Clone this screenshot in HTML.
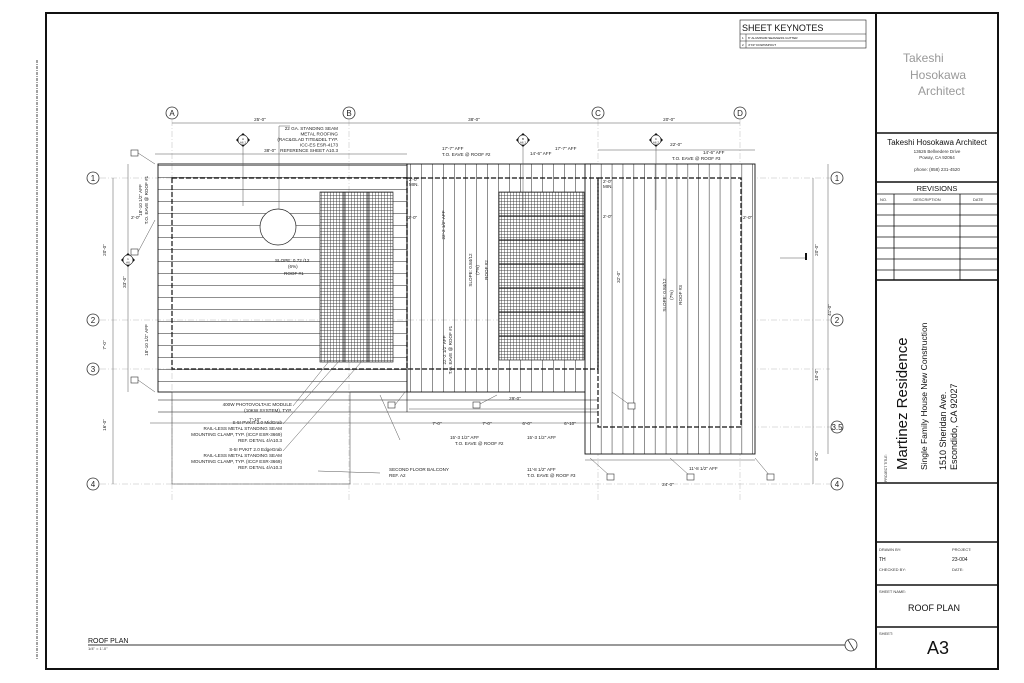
<!DOCTYPE html>
<html><head><meta charset="utf-8"><style>
html,body{margin:0;padding:0;background:#fff;}
svg{display:block;font-family:"Liberation Sans",sans-serif;}
.t{font-size:4.6px;fill:#222;}
.d{stroke:#555;stroke-width:0.5;fill:none;}
.g{stroke:#bbb;stroke-width:0.5;stroke-dasharray:6 2 1 2;fill:none;}
.k{stroke:#111;fill:none;}
.bub{fill:#fff;stroke:#333;stroke-width:0.8;}
.bt{font-size:8px;fill:#222;text-anchor:middle;}
</style></head><body>
<svg width="1024" height="683" viewBox="0 0 1024 683" xmlns="http://www.w3.org/2000/svg">
<defs>
<pattern id="hz" width="10" height="12" patternUnits="userSpaceOnUse" y="165"><line x1="0" y1="0.5" x2="10" y2="0.5" stroke="#444" stroke-width="0.6"/></pattern>
<pattern id="vt" width="11" height="10" patternUnits="userSpaceOnUse" x="410"><line x1="0.5" y1="0" x2="0.5" y2="10" stroke="#444" stroke-width="0.6"/></pattern>
<pattern id="vt3" width="10.8" height="10" patternUnits="userSpaceOnUse" x="590"><line x1="0.5" y1="0" x2="0.5" y2="10" stroke="#444" stroke-width="0.6"/></pattern>
<pattern id="pv" width="3" height="3" patternUnits="userSpaceOnUse"><path d="M0 0.5H3M0.5 0V3" stroke="#333" stroke-width="0.45"/></pattern>
</defs>
<rect width="1024" height="683" fill="#fff"/>
<rect x="46" y="13" width="952" height="656" fill="none" stroke="#111" stroke-width="2"/>
<line x1="876" y1="13" x2="876" y2="669" stroke="#111" stroke-width="2"/>
<line x1="37" y1="60" x2="37" y2="660" stroke="#444" stroke-width="1" stroke-dasharray="3 1 1 1"/>

<text x="903" y="62" font-size="12" fill="#999">Takeshi</text>
<text x="910" y="79" font-size="12" fill="#999">Hosokawa</text>
<text x="918" y="95" font-size="12" fill="#999">Architect</text>
<g stroke="#111" stroke-width="1.5">
<line x1="876" y1="133" x2="998" y2="133"/><line x1="876" y1="182" x2="998" y2="182"/>
<line x1="876" y1="280" x2="998" y2="280"/><line x1="876" y1="483" x2="998" y2="483"/>
<line x1="876" y1="542" x2="998" y2="542"/><line x1="876" y1="585" x2="998" y2="585"/>
<line x1="876" y1="627" x2="998" y2="627"/></g>
<text x="937" y="145" font-size="8" text-anchor="middle" fill="#111">Takeshi Hosokawa Architect</text>
<text x="937" y="153" font-size="4.5" text-anchor="middle" fill="#333">13626 Bellvedere Drive</text>
<text x="937" y="159" font-size="4.5" text-anchor="middle" fill="#333">Poway, CA 92064</text>
<text x="937" y="171" font-size="4.5" text-anchor="middle" fill="#333">phone: (858) 231-4520</text>
<text x="937" y="191" font-size="7.5" text-anchor="middle" fill="#111">REVISIONS</text>
<g stroke="#111" stroke-width="0.8">
<line x1="876" y1="194" x2="998" y2="194"/><line x1="876" y1="204" x2="998" y2="204"/>
<line x1="876" y1="215" x2="998" y2="215"/><line x1="876" y1="226" x2="998" y2="226"/>
<line x1="876" y1="237" x2="998" y2="237"/><line x1="876" y1="248" x2="998" y2="248"/>
<line x1="876" y1="259" x2="998" y2="259"/><line x1="876" y1="270" x2="998" y2="270"/>
<line x1="894" y1="194" x2="894" y2="280"/><line x1="960" y1="194" x2="960" y2="280"/></g>
<text x="880" y="201" font-size="4" fill="#333">NO.</text>
<text x="927" y="201" font-size="4" fill="#333" text-anchor="middle">DESCRIPTION</text>
<text x="978" y="201" font-size="4" fill="#333" text-anchor="middle">DATE</text>
<g transform="translate(887,482) rotate(-90)"><text font-size="3.5" fill="#333">PROJECT TITLE:</text></g>
<g transform="translate(907,470) rotate(-90)"><text font-size="15" fill="#111">Martinez Residence</text></g>
<g transform="translate(927,470) rotate(-90)"><text font-size="8.5" fill="#111">Single Family House New Construction</text></g>
<g transform="translate(946,470) rotate(-90)"><text font-size="9" fill="#111">1510 Sheridan Ave.</text></g>
<g transform="translate(957,470) rotate(-90)"><text font-size="9" fill="#111">Escondido, CA 92027</text></g>
<text x="879" y="551" font-size="4" fill="#333">DRAWN BY:</text>
<text x="952" y="551" font-size="4" fill="#333">PROJECT:</text>
<text x="879" y="561" font-size="5" fill="#111">TH</text>
<text x="952" y="561" font-size="5" fill="#111">23-004</text>
<text x="879" y="571" font-size="4" fill="#333">CHECKED BY:</text>
<text x="952" y="571" font-size="4" fill="#333">DATE:</text>
<text x="879" y="593" font-size="4" fill="#333">SHEET NAME:</text>
<text x="934" y="611" font-size="9" text-anchor="middle" fill="#111">ROOF PLAN</text>
<text x="879" y="635" font-size="4" fill="#333">SHEET:</text>
<text x="938" y="654" font-size="18" text-anchor="middle" fill="#111">A3</text>

<rect x="740" y="20" width="126" height="28" fill="none" stroke="#222" stroke-width="0.6"/>
<text x="742" y="31" font-size="9" fill="#111">SHEET KEYNOTES</text>
<line x1="740" y1="34" x2="866" y2="34" stroke="#222" stroke-width="0.5"/>
<line x1="740" y1="41" x2="866" y2="41" stroke="#222" stroke-width="0.5"/>
<line x1="746" y1="34" x2="746" y2="48" stroke="#222" stroke-width="0.5"/>
<text x="742" y="39" font-size="3">1</text><text x="748" y="39" font-size="3">6" ALUMINUM SEAMLESS GUTTER</text>
<text x="742" y="46" font-size="3">2</text><text x="748" y="46" font-size="3">4"X3" DOWNSPOUT</text>

<g class="g">
<line x1="172" y1="120" x2="172" y2="500"/><line x1="349" y1="120" x2="349" y2="500"/>
<line x1="598" y1="120" x2="598" y2="500"/><line x1="740" y1="120" x2="740" y2="500"/>
<line x1="100" y1="178" x2="830" y2="178"/><line x1="100" y1="320" x2="830" y2="320"/>
<line x1="100" y1="369" x2="830" y2="369"/><line x1="585" y1="427" x2="830" y2="427"/>
<line x1="100" y1="484" x2="830" y2="484"/></g>

<rect x="158" y="164" width="249" height="228" fill="url(#hz)"/>
<rect x="158" y="164" width="249" height="228" class="k" stroke-width="0.9"/>
<rect x="407" y="164" width="191" height="228" fill="url(#vt)"/>
<rect x="407" y="164" width="191" height="228" class="k" stroke-width="0.9"/>
<rect x="585" y="164" width="170" height="290" fill="#fff"/>
<rect x="585" y="164" width="170" height="290" fill="url(#vt3)"/>
<rect x="585" y="164" width="170" height="290" class="k" stroke-width="0.9"/>
<g class="k" stroke-width="0.6"><line x1="158" y1="400" x2="598" y2="400"/><line x1="158" y1="412" x2="598" y2="412"/>
<line x1="407" y1="392" x2="407" y2="412"/></g>
<rect x="172" y="178" width="235" height="191" fill="none" stroke="#111" stroke-width="1.2" stroke-dasharray="5 2"/>
<rect x="407" y="178" width="191" height="191" fill="none" stroke="#111" stroke-width="1.2" stroke-dasharray="5 2"/>
<rect x="598" y="178" width="143" height="249" fill="none" stroke="#111" stroke-width="1.2" stroke-dasharray="5 2"/>
<rect x="320" y="192" width="73" height="170" fill="#fff"/><rect x="320" y="192" width="73" height="170" fill="url(#pv)" stroke="#222" stroke-width="0.7"/>
<g stroke="#111" stroke-width="0.9"><line x1="344" y1="192" x2="344" y2="362"/><line x1="368" y1="192" x2="368" y2="362"/></g>
<rect x="499" y="192" width="85" height="168" fill="#fff"/><rect x="499" y="192" width="85" height="168" fill="url(#pv)" stroke="#222" stroke-width="0.7"/>
<g stroke="#111" stroke-width="0.9"><line x1="499" y1="216" x2="584" y2="216"/><line x1="499" y1="240" x2="584" y2="240"/><line x1="499" y1="264" x2="584" y2="264"/><line x1="499" y1="288" x2="584" y2="288"/><line x1="499" y1="312" x2="584" y2="312"/><line x1="499" y1="336" x2="584" y2="336"/></g>
<circle cx="278" cy="227" r="18" fill="#fff" stroke="#222" stroke-width="0.7"/>
<rect x="172" y="392" width="178" height="92" fill="none" stroke="#555" stroke-width="0.6"/>

<g class="d">
<line x1="172" y1="123" x2="740" y2="123"/>
<line x1="155" y1="154" x2="407" y2="154"/>
<line x1="598" y1="150" x2="755" y2="150"/>
<line x1="128" y1="164" x2="128" y2="392"/>
<line x1="113" y1="178" x2="113" y2="484"/>
<line x1="813" y1="178" x2="813" y2="484"/>
<line x1="828" y1="164" x2="828" y2="454"/>
<line x1="150" y1="423" x2="598" y2="423"/>
<line x1="585" y1="460" x2="755" y2="460"/>
<line x1="409" y1="409" x2="598" y2="409"/>
<line x1="780" y1="258" x2="806" y2="258"/>
</g>
<rect x="805" y="253" width="2" height="7" fill="#111"/>
<g class="t" text-anchor="middle">
<text x="260" y="121">25'-0"</text><text x="474" y="121">38'-0"</text><text x="669" y="121">20'-0"</text>
<text x="270" y="152">38'-0"</text><text x="676" y="146">22'-0"</text>
<text x="255" y="421">7'-10"</text><text x="437" y="425">7'-0"</text><text x="487" y="425">7'-0"</text><text x="527" y="425">6'-0"</text><text x="570" y="425">6'-10"</text>
<text x="515" y="400">29'-0"</text><text x="668" y="486">24'-0"</text>
</g>
<g class="t" text-anchor="middle">
<text transform="translate(106,250) rotate(-90)">20'-0"</text>
<text transform="translate(126,282) rotate(-90)">33'-0"</text>
<text transform="translate(106,345) rotate(-90)">7'-0"</text>
<text transform="translate(106,425) rotate(-90)">16'-0"</text>
<text transform="translate(818,250) rotate(-90)">20'-0"</text>
<text transform="translate(818,375) rotate(-90)">10'-0"</text>
<text transform="translate(818,456) rotate(-90)">8'-0"</text>
<text transform="translate(831,310) rotate(-90)">41'-0"</text>
<text transform="translate(148,200) rotate(-90)">T.O. EAVE @ ROOF #1</text>
<text transform="translate(142,200) rotate(-90)">18'-10 1/2" AFF</text>
<text transform="translate(148,340) rotate(-90)">18'-10 1/2" AFF</text>
<text transform="translate(445,225) rotate(-90)">22'-2 1/2" AFF</text>
<text transform="translate(452,350) rotate(-90)">T.O. EAVE @ ROOF #1</text>
<text transform="translate(446,350) rotate(-90)">22'-2 1/2" AFF</text>
<text transform="translate(472,270) rotate(-90)">SLOPE: 0.84/12</text>
<text transform="translate(479,270) rotate(-90)">(7%)</text>
<text transform="translate(488,270) rotate(-90)">ROOF #2</text>
<text transform="translate(666,295) rotate(-90)">SLOPE: 0.84/12</text>
<text transform="translate(673,295) rotate(-90)">(7%)</text>
<text transform="translate(682,295) rotate(-90)">ROOF #3</text>
<text transform="translate(620,277) rotate(-90)">32'-0"</text>
</g>
<g class="t">
<text x="275" y="262">SLOPE: 0.72 /12</text><text x="288" y="268">(6%)</text><text x="284" y="275">ROOF #1</text>
<text x="338" y="130" text-anchor="end">22 GA. STANDING SEAM</text>
<text x="338" y="135.5" text-anchor="end">METAL ROOFING</text>
<text x="338" y="141" text-anchor="end">(RAC&amp;GLAD TITE&amp;DEL TYP.</text>
<text x="338" y="146.5" text-anchor="end">ICC-ES ESR-4173</text>
<text x="338" y="152" text-anchor="end">REFERENCE SHEET A10.3</text>
<text x="442" y="150">17'-7" AFF</text><text x="442" y="156">T.O. EAVE @ ROOF #2</text>
<text x="530" y="155">14'-6" AFF</text><text x="555" y="150">17'-7" AFF</text>
<text x="703" y="154">14'-6" AFF</text><text x="672" y="160">T.O. EAVE @ ROOF #3</text>
<text x="292" y="406" text-anchor="end">400W PHOTOVOLTAIC MODULE</text>
<text x="292" y="412" text-anchor="end">(10KW SYSTEM), TYP.</text>
<text x="282" y="424" text-anchor="end">S-5! PVKIT 2.0 MidGrab</text>
<text x="282" y="430" text-anchor="end">RAIL-LESS METAL STANDING SEAM</text>
<text x="282" y="436" text-anchor="end">MOUNTING CLAMP, TYP. (ICC# ESR-3669)</text>
<text x="282" y="442" text-anchor="end">REF. DETAIL 4/A10.3</text>
<text x="282" y="451" text-anchor="end">S-5! PVKIT 2.0 EdgeGrab</text>
<text x="282" y="457" text-anchor="end">RAIL-LESS METAL STANDING SEAM</text>
<text x="282" y="463" text-anchor="end">MOUNTING CLAMP, TYP. (ICC# ESR-3669)</text>
<text x="282" y="469" text-anchor="end">REF. DETAIL 4/A10.3</text>
<text x="389" y="471">SECOND FLOOR BALCONY</text><text x="389" y="477">REF. A2</text>
<text x="450" y="439">15'-3 1/2" AFF</text><text x="455" y="445">T.O. EAVE @ ROOF #2</text>
<text x="527" y="439">15'-3 1/2" AFF</text>
<text x="527" y="471">11'-8 1/2" AFF</text><text x="527" y="477">T.O. EAVE @ ROOF #3</text>
<text x="689" y="470">11'-8 1/2" AFF</text>
<text x="603" y="183">2'-0"</text><text x="603" y="188">MIN.</text>
<text x="603" y="218">2'-0"</text><text x="743" y="219">2'-0"</text>
<text x="409" y="181">2'-0"</text><text x="409" y="186">MIN.</text>
<text x="131" y="219">2'-0"</text><text x="408" y="219">2'-0"</text>
</g>
<g class="d" stroke="#333">
<path d="M279 209 V126 H290"/><path d="M293 406 L330 360"/><path d="M283 424 L340 360"/><path d="M283 451 L363 360"/>
<path d="M318 471 L380 473"/><path d="M400 440 L380 395"/><path d="M630 405 L612 392"/>
<path d="M138 153 L155 164"/><path d="M138 252 L155 220"/><path d="M138 380 L155 392"/>
<path d="M610 476 L590 458"/><path d="M690 476 L670 458"/><path d="M770 476 L755 458"/><path d="M395 405 L405 392"/><path d="M478 405 L497 395"/>
</g>
<g fill="#fff" stroke="#333" stroke-width="0.6">
<rect x="131" y="150" width="7" height="6"/><rect x="131" y="249" width="7" height="6"/><rect x="131" y="377" width="7" height="6"/>
<rect x="388" y="402" width="7" height="6"/><rect x="473" y="402" width="7" height="6"/><rect x="628" y="403" width="7" height="6"/>
<rect x="607" y="474" width="7" height="6"/><rect x="687" y="474" width="7" height="6"/><rect x="767" y="474" width="7" height="6"/>
</g>
<g>
<path d="M243 133 L250 140 L243 147 L236 140Z" fill="#111"/><circle cx="243" cy="140" r="5" fill="#fff" stroke="#111" stroke-width="0.6"/>
<path d="M523 133 L530 140 L523 147 L516 140Z" fill="#111"/><circle cx="523" cy="140" r="5" fill="#fff" stroke="#111" stroke-width="0.6"/>
<path d="M656 133 L663 140 L656 147 L649 140Z" fill="#111"/><circle cx="656" cy="140" r="5" fill="#fff" stroke="#111" stroke-width="0.6"/>
<path d="M128 253 L135 260 L128 267 L121 260Z" fill="#111"/><circle cx="128" cy="260" r="5" fill="#fff" stroke="#111" stroke-width="0.6"/>
<g font-size="3" text-anchor="middle" fill="#222"><text x="243" y="140">A</text><text x="243" y="143.5">A6.1</text><text x="523" y="140">B</text><text x="523" y="143.5">A6.1</text><text x="656" y="140">C</text><text x="656" y="143.5">A6.2</text><text x="128" y="260">1</text><text x="128" y="263.5">A6</text></g>
<line x1="243" y1="147" x2="243" y2="206" class="d"/><line x1="523" y1="147" x2="523" y2="210" class="d"/><line x1="656" y1="147" x2="656" y2="210" class="d"/>
</g>
<g>
<circle cx="172" cy="113" r="6" class="bub"/><text x="172" y="116" class="bt">A</text>
<circle cx="349" cy="113" r="6" class="bub"/><text x="349" y="116" class="bt">B</text>
<circle cx="598" cy="113" r="6" class="bub"/><text x="598" y="116" class="bt">C</text>
<circle cx="740" cy="113" r="6" class="bub"/><text x="740" y="116" class="bt">D</text>
<circle cx="93" cy="178" r="6" class="bub"/><text x="93" y="181" class="bt">1</text>
<circle cx="93" cy="320" r="6" class="bub"/><text x="93" y="323" class="bt">2</text>
<circle cx="93" cy="369" r="6" class="bub"/><text x="93" y="372" class="bt">3</text>
<circle cx="93" cy="484" r="6" class="bub"/><text x="93" y="487" class="bt">4</text>
<circle cx="837" cy="178" r="6" class="bub"/><text x="837" y="181" class="bt">1</text>
<circle cx="837" cy="320" r="6" class="bub"/><text x="837" y="323" class="bt">2</text>
<circle cx="837" cy="427" r="6" class="bub"/><text x="837" y="430" class="bt" font-size="7">3.5</text>
<circle cx="837" cy="484" r="6" class="bub"/><text x="837" y="487" class="bt">4</text>
</g>
<text x="88" y="643" font-size="7" fill="#111">ROOF PLAN</text>
<text x="88" y="650" font-size="4" fill="#333">1/4" = 1'-0"</text>
<line x1="88" y1="645" x2="845" y2="645" stroke="#333" stroke-width="1"/>
<circle cx="851" cy="645" r="6" fill="#fff" stroke="#333" stroke-width="0.8"/>
<line x1="848" y1="640" x2="854" y2="650" stroke="#333" stroke-width="0.8"/>
</svg>
</body></html>
